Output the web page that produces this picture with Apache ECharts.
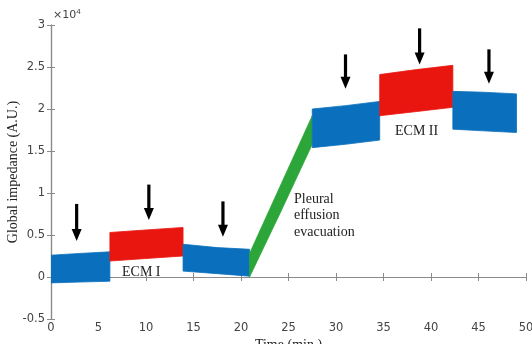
<!DOCTYPE html>
<html>
<head>
<meta charset="utf-8">
<script src="https://cdn.jsdelivr.net/npm/echarts@6/dist/echarts.min.js"></script>
<style>
  html, body { margin: 0; padding: 0; background: #fff; }
  #chart { width: 532px; height: 344px; }
</style>
</head>
<body>
<div id="chart"></div>
<script>
// Impedance envelope of each phase: [time (min), lower, upper] in units of 1e4 A.U.
const baseline1  = [[0, -0.07, 0.26], [3, -0.06, 0.28], [6.2, -0.05, 0.30]];
const ecm1       = [[6.2, 0.19, 0.53], [10, 0.22, 0.56], [13.9, 0.25, 0.59]];
const baseline2  = [[13.9, 0.07, 0.39], [17.5, 0.04, 0.35], [20.9, 0.01, 0.33]];
const evacuation = [[20.9, 0.0, 0.28], [24.2, 0.78, 1.10], [27.5, 1.58, 1.92]];
const baseline3  = [[27.5, 1.54, 2.00], [31, 1.58, 2.04], [34.6, 1.63, 2.09]];
const ecm2       = [[34.6, 1.92, 2.41], [38.5, 1.97, 2.47], [42.3, 2.02, 2.52]];
const baseline4  = [[42.3, 1.76, 2.21], [45.5, 1.74, 2.20], [49, 1.72, 2.18]];

// Arrows marking measurement moments: [time, top, tip]
const arrows = [[2.7, 0.87, 0.43], [10.3, 1.10, 0.68], [18.1, 0.90, 0.48],
                [31.0, 2.65, 2.24], [38.8, 2.96, 2.53], [46.1, 2.71, 2.30]];

const xTicks = [0, 5, 10, 15, 20, 25, 30, 35, 40, 45, 50];
const yTicks = [-0.5, 0, 0.5, 1, 1.5, 2, 2.5, 3];

const BLUE = '#0a70bd', RED = '#e8160f', GREEN = '#2ca638';
const AXIS = '#8a8a8a', TICKTXT = '#444';
const SERIF = '"Liberation Serif", "DejaVu Serif", serif';
const SANS = '"DejaVu Sans", "Liberation Sans", sans-serif';

function bandSeries(seg, color) {
  return {
    type: 'custom',
    data: [0],
    clip: true,
    renderItem: function (params, api) {
      const pts = [];
      seg.forEach(r => pts.push(api.coord([r[0], r[2]])));
      for (let i = seg.length - 1; i >= 0; i--) pts.push(api.coord([seg[i][0], seg[i][1]]));
      return { type: 'polygon', shape: { points: pts }, style: { fill: color, stroke: color, lineWidth: 0.8 } };
    }
  };
}

const arrowSeries = {
  type: 'custom',
  data: arrows,
  renderItem: function (params, api) {
    const top = api.coord([api.value(0), api.value(1)]);
    const tip = api.coord([api.value(0), api.value(2)]);
    const headLen = 12, headW = 5;
    return {
      type: 'group',
      children: [
        { type: 'rect', shape: { x: top[0] - 1.6, y: top[1], width: 3.2, height: tip[1] - top[1] - headLen + 1 }, style: { fill: '#000' } },
        { type: 'polygon', shape: { points: [[tip[0] - headW, tip[1] - headLen], [tip[0] + headW, tip[1] - headLen], [tip[0], tip[1]]] }, style: { fill: '#000' } }
      ]
    };
  }
};

const tickFmt = v => String(Math.round(v * 10) / 10);

const chart = echarts.init(document.getElementById('chart'), null, { renderer: 'canvas' });
chart.setOption({
  animation: false,
  backgroundColor: '#fff',
  grid: { left: 51, right: 6, top: 25, bottom: 25, containLabel: false, outerBoundsMode: 'none' },
  xAxis: [{
    type: 'value', min: xTicks[0], max: xTicks[xTicks.length - 1], interval: 5,
    axisLine: { show: true, lineStyle: { color: AXIS, width: 1.2 } },
    axisTick: { show: true, inside: true, length: 4, lineStyle: { color: AXIS } },
    axisLabel: { color: TICKTXT, fontFamily: SANS, fontSize: 11.5, margin: 3, formatter: tickFmt },
    splitLine: { show: false },
    name: 'Time (min.)', nameLocation: 'middle', nameGap: 19, nameMoveOverlap: false,
    nameTextStyle: { fontFamily: SERIF, fontSize: 14, color: '#222' }
  }, {
    type: 'value', position: 'top', min: 0, max: 50, interval: 5,
    axisLine: { show: true, lineStyle: { color: AXIS, width: 1.2 } },
    axisTick: { show: true, inside: true, length: 4, lineStyle: { color: AXIS } },
    axisLabel: { show: false }, splitLine: { show: false }
  }],
  yAxis: [{
    type: 'value', min: yTicks[0], max: yTicks[yTicks.length - 1], interval: 0.5,
    axisLine: { show: true, lineStyle: { color: AXIS, width: 1.2 } },
    axisTick: { show: true, inside: true, length: 4, lineStyle: { color: AXIS } },
    axisLabel: { color: TICKTXT, fontFamily: SANS, fontSize: 11.5, margin: 6, formatter: tickFmt },
    splitLine: { show: false },
    name: 'Global impedance (A.U.)', nameLocation: 'middle', nameGap: 31, nameMoveOverlap: false,
    nameTextStyle: { fontFamily: SERIF, fontSize: 14, color: '#222' }
  }, {
    type: 'value', position: 'right', min: -0.5, max: 3, interval: 0.5,
    axisLine: { show: true, lineStyle: { color: AXIS, width: 1.2 } },
    axisTick: { show: true, inside: true, length: 4, lineStyle: { color: AXIS } },
    axisLabel: { show: false }, splitLine: { show: false }
  }],
  graphic: [
    { type: 'text', left: 53, top: 8, style: { text: '×10{s|4}', fill: TICKTXT, font: '11px ' + SANS,
      rich: { s: { fontSize: 8, verticalAlign: 'top', fill: TICKTXT, padding: [0, 0, 6, 0] } } } },
    { type: 'text', left: 122, top: 265, style: { text: 'ECM I', fill: '#222', font: '14px ' + SERIF } },
    { type: 'text', left: 395, top: 124, style: { text: 'ECM II', fill: '#222', font: '14px ' + SERIF } },
    { type: 'text', left: 294, top: 191, style: { text: 'Pleural\neffusion\nevacuation', fill: '#222', font: '14px ' + SERIF, lineHeight: 16.5 } }
  ],
  series: [
    bandSeries(baseline1, BLUE),
    bandSeries(ecm1, RED),
    bandSeries(baseline2, BLUE),
    bandSeries(evacuation, GREEN),
    bandSeries(baseline3, BLUE),
    bandSeries(ecm2, RED),
    bandSeries(baseline4, BLUE),
    arrowSeries
  ]
});
</script>
</body>
</html>
